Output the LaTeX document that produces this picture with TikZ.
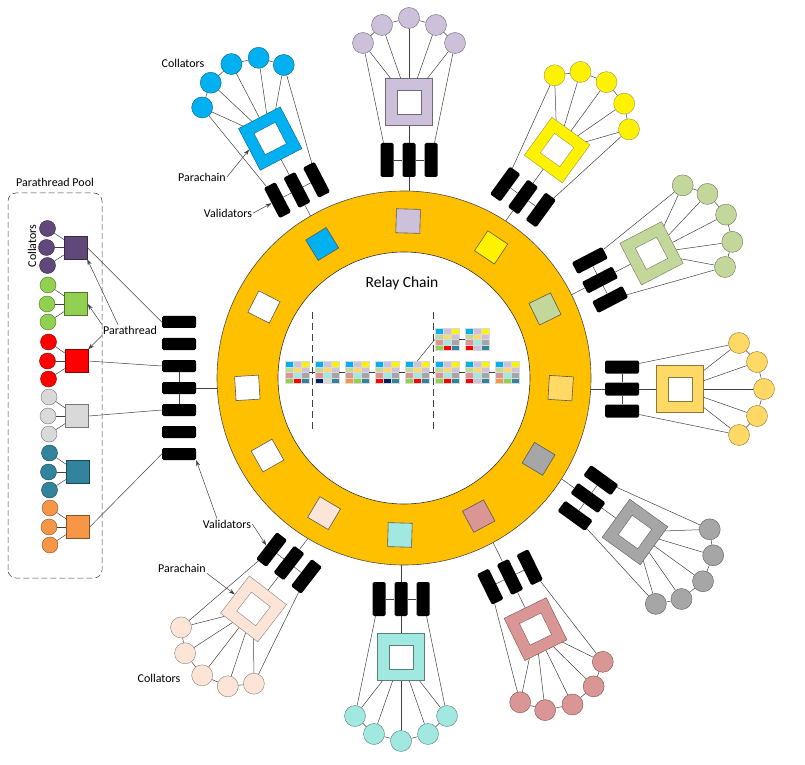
\documentclass[tikz,border=0pt]{standalone}
\usepackage{fontspec}
\setmainfont{Carlito}
\usetikzlibrary{calc,arrows.meta}

\definecolor{ringorange}{HTML}{FFC000}
\definecolor{lavender}{HTML}{CCC0DA}
\definecolor{skyblue}{HTML}{00B0F0}
\definecolor{sage}{HTML}{C4D79B}
\definecolor{gold}{HTML}{FFD966}
\definecolor{midgray}{HTML}{A6A6A6}
\definecolor{rose}{HTML}{DA9694}
\definecolor{aqua}{HTML}{A0E8E0}
\definecolor{peach}{HTML}{FCE4D6}
\definecolor{plum}{HTML}{60497A}
\definecolor{lime}{HTML}{92D050}
\definecolor{pthgray}{HTML}{D9D9D9}
\definecolor{petrol}{HTML}{31849B}
\definecolor{tangerine}{HTML}{F79646}
\definecolor{navy}{HTML}{002060}

\tikzset{
  wire/.style={draw=black!75, line width=0.5pt},
  tip/.style={wire, -{Stealth[length=6pt, width=4pt]}},
  val/.style={fill=black, rounded corners=1.5pt, minimum width=34pt, minimum height=13pt, inner sep=0pt, transform shape},
  pval/.style={val, minimum height=12pt},
  pchain/.style={draw=#1!55!black, fill=#1, minimum size=47pt, inner sep=0pt, transform shape},
  hole/.style={draw=#1!55!black, fill=white, minimum size=24pt, inner sep=0pt, transform shape},
  coll/.style={circle, draw=#1!55!black, fill=#1, minimum size=21pt, inner sep=0pt},
  tsq/.style={draw=#1!55!black, fill=#1, minimum size=23pt, inner sep=0pt},
  tcoll/.style={circle, draw=#1!55!black, fill=#1, minimum size=16pt, inner sep=0pt},
  slot/.style={draw=black!65, line width=0.6pt, minimum size=24pt, inner sep=0pt},
  blk/.style={minimum width=24pt, minimum height=22pt, inner sep=0pt},
  lbl/.style={font=\fontsize{12}{14}\selectfont, inner sep=1pt},
}

% one relay chain block: name, position, colours of the bottom row
\newcommand\relayblock[5]{%
  \node[blk] (#1) at (#2) {};
  \foreach \c [count=\i from 0] in {skyblue,lavender,yellow,sage,gold,lavender,rose,aqua,midgray,#3,#4,#5} {
    \pgfmathtruncatemacro\cx{mod(\i,3)}
    \pgfmathtruncatemacro\cy{div(\i,3)}
    \filldraw[fill=\c, draw=white!85!black, line width=0.3pt] ($(#1.north west)+(\cx*8,-\cy*5.5)$) rectangle ++(8,-5.5);
  }%
}

\begin{document}
\begin{tikzpicture}[x=1pt, y=1pt]
\useasboundingbox (0,0) rectangle (805,764);

% parachains: angle / x / y / colour / name
\foreach \a/\x/\y/\c/\nm in {90/409/604/lavender/lav, 117.5/297/574/skyblue/sky, 54/523/567/yellow/yel, 27.4/600/484/sage/sag, 0/622/375/gold/gol, -35.9/588/266/midgray/gry, -63.9/510/187/rose/ros, -90/401/165/aqua/aqu, 232.3/289/201/peach/pea} {
  \begin{scope}[shift={(\x,\y)}, rotate=\a]
    \node[val] (\nm-v1) at (0,22) {};
    \node[val] (\nm-v2) at (0,0) {};
    \node[val] (\nm-v3) at (0,-22) {};
    \node[pchain=\c] (\nm-sq) at (58,0) {};
    \node[hole=\c] (\nm-h) at (58,0) {};
    \foreach \ra/\ta [count=\k] in {117/46, 135/27, 142/0, 135/-27, 117/-46}
      \node[coll=\c] (\nm-c\k) at (\ra,\ta) {};
    \coordinate (\nm-r) at (-45,0);
  \end{scope}
  \draw[wire] (\nm-v1) -- (\nm-v2) -- (\nm-v3);
  \draw[wire] (\nm-r) -- (\nm-v2) -- (\nm-sq);
  \draw[wire] (\nm-v1) -- (\nm-c1) -- (\nm-c2) -- (\nm-c3) -- (\nm-c4) -- (\nm-c5) -- (\nm-v3);
  \foreach \k in {1,...,5}
    \draw[wire] (\nm-c\k) -- (\nm-sq);
}

% parathread pool
\draw[wire, dashed, dash pattern=on 6pt off 3pt, rounded corners=8pt] (8,186) rectangle (102,571);
\node[lbl] (lpool) at (55,582) {Parathread Pool};
\foreach \c/\yy [count=\i] in {plum/516.5, lime/460, red/403, pthgray/348, petrol/292, tangerine/237} {
  \node[tsq=\c] (t\i) at (75+0.5*\i,\yy) {};
  \node[tcoll=\c] (t\i-c1) at ($(t\i)+(-28,19)$) {};
  \node[tcoll=\c] (t\i-c2) at ($(t\i)+(-29,0)$) {};
  \node[tcoll=\c] (t\i-c3) at ($(t\i)+(-28,-18)$) {};
  \foreach \k in {1,2,3}
    \draw[wire] (t\i-c\k) -- (t\i);
}
\node[lbl, rotate=90] (lcoll0) at (32,518) {Collators};

\foreach \k in {1,...,7}
  \node[pval] (pv\k) at (179,464-22*\k) {};
\coordinate (pr) at (232,376);
\draw[wire] (pv3) -- (pv4) -- (pv5);
\draw[wire] (pv4) -- (pr);
\draw[wire] (t1.east) -- (pv1.west);
\draw[wire] (t3.east) -- (pv3.west);
\draw[wire] (t4.east) -- (pv5.west);
\draw[wire] (t6.east) -- (pv7.west);

% relay chain ring
\coordinate (C) at (404,386);
\draw[fill=ringorange, draw=black!70, line width=0.6pt] (C) circle (187pt);
\draw[fill=white, draw=black!80, line width=0.6pt] (C) circle (126pt);
\foreach \a/\c [count=\i] in {88.5/lavender, 121.4/skyblue, 153.1/white, 183.6/white, 209.6/white, 239.4/peach, 268.5/aqua, 298.4/rose, 329/midgray, 356.3/gold, 26.1/sage, 56.3/yellow}
  \node[slot, fill=\c, rotate=\a] (s\i) at ($(C)+(\a:157)$) {};

\node[font=\fontsize{15.5}{18}\selectfont] (lrelay) at (402,481) {Relay Chain};

\relayblock{b1}{297,391.5}{lime}{red}{petrol}
\relayblock{b2}{327,391.5}{navy}{pthgray}{petrol}
\relayblock{b3}{357,391.5}{tangerine}{lime}{petrol}
\relayblock{b4}{387,391.5}{red}{navy}{petrol}
\relayblock{b5}{417,391.5}{lime}{red}{petrol}
\relayblock{b6}{447,391.5}{lime}{red}{petrol}
\relayblock{b7}{477,391.5}{red}{lavender}{petrol}
\relayblock{b8}{507,391.5}{tangerine}{lime}{petrol}
\relayblock{f1}{447,424.5}{lime}{red}{petrol}
\relayblock{f2}{477,424.5}{red}{lavender}{petrol}
\draw[wire] (b1) -- (b2) -- (b3) -- (b4) -- (b5) -- (b6) -- (b7) -- (b8);
\draw[wire] (b5.north) -- (f1.west);
\draw[wire] (f1) -- (f2);
\draw[wire, dash pattern=on 7pt off 4pt] (312.5,452) -- (312.5,332);
\draw[wire, dash pattern=on 7pt off 4pt] (433,452) -- (433,332);

% labels
\node[lbl] (lcoll1) at (183,701) {Collators};
\node[lbl] (lpara1) at (202,587) {Parachain};
\node[lbl] (lval1) at (228,551) {Validators};
\draw[tip] (lpara1.east) -- (sky-sq.north);
\draw[tip] (lval1.east) -- (sky-v1.north);

\node[lbl] (lval2) at (227,240) {Validators};
\node[lbl] (lpara2) at (182,196) {Parachain};
\node[lbl] (lcoll2) at (159,86) {Collators};
\draw[tip] (lval2.east) -- (pea-v3.south);
\draw[tip] ([xshift=-10pt]lval2.north) -- (pv7.south east);
\draw[tip] (lpara2.south east) -- (pea-sq.south);

\node[lbl] (lthr) at (130,434) {Parathread};
\draw[tip] ([xshift=-12pt]lthr.north) -- (t1.south east);
\draw[tip] (lthr.north west) -- (t2.east);
\draw[tip] (lthr.south west) -- (t3.north east);
\end{tikzpicture}
\end{document}
